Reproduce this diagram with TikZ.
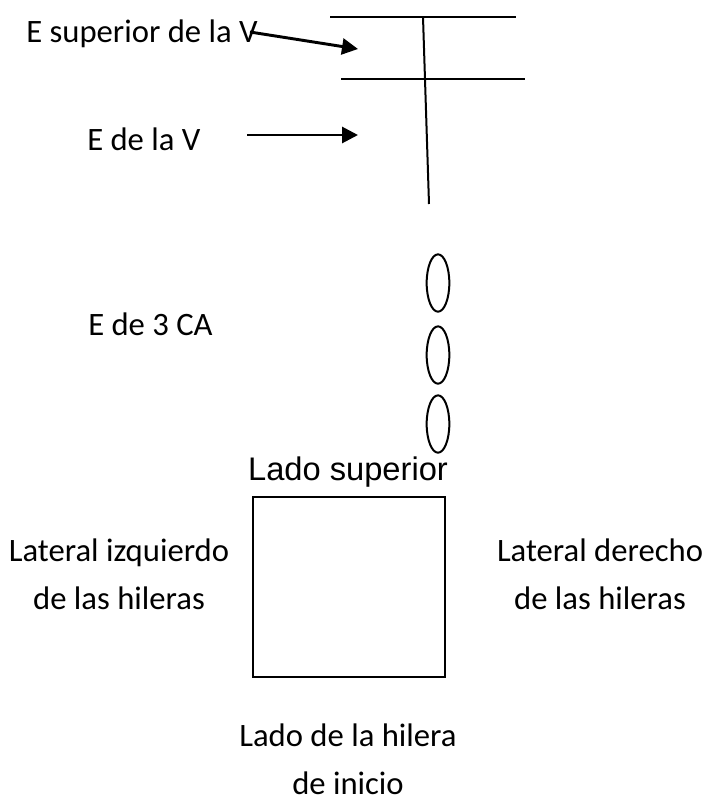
\documentclass[tikz,border=0pt]{standalone}
\usepackage{fontspec}
\setmainfont{Carlito}
\newfontfamily\arialfont{Liberation Sans}
\usetikzlibrary{arrows.meta,shapes.geometric}
\begin{document}
\begin{tikzpicture}[x=0.75pt,y=-0.75pt,>={Triangle[length=12pt,width=12pt]},
  txt/.style={inner sep=0pt,font=\fontsize{24.5}{36}\selectfont},
  eje/.style={line width=1.5pt},
  grano/.style={ellipse,draw,line width=1.5pt,inner sep=0pt,minimum width=17pt,minimum height=43pt}]
\useasboundingbox (0,0) rectangle (714,801);

% la V
\draw[eje] (330,17) -- (516,17);
\draw[eje] (341,79) -- (525,79);
\draw[eje] (423,17) -- (429,204);

\node[txt,anchor=base west] (esup) at (26,42) {E superior de la V};
\node[txt,anchor=base west] (ev) at (87,150) {E de la V};
\coordinate (p1) at (358,49);
\coordinate (q2) at (247,135);
\coordinate (p2) at (358,135);
\draw[->,line width=2.2pt] (esup.base east) ++(-8,-10) coordinate (q1) -- (p1);
\draw[->,line width=2.2pt] (q2) -- (p2);

% espiguillas
\node[txt,anchor=base west] (e3) at (88,335) {E de 3 CA};
\node[grano] (c1) at (438,283) {};
\node[grano] (c2) at (438,355) {};
\node[grano] (c3) at (438,424) {};

% parcela
\node[txt,anchor=base,font=\arialfont\fontsize{24.5}{30}\selectfont] (sup) at (348,480) {Lado superior};
\draw[eje] (253,497) rectangle (445,677);
\node[txt,anchor=base,align=center] (izq) at (119,609) {Lateral izquierdo\\de las hileras};
\node[txt,anchor=base,align=center] (der) at (600,609) {Lateral derecho\\de las hileras};
\node[txt,anchor=base,align=center] (ini) at (348,794) {Lado de la hilera\\de inicio};
\end{tikzpicture}
\end{document}
